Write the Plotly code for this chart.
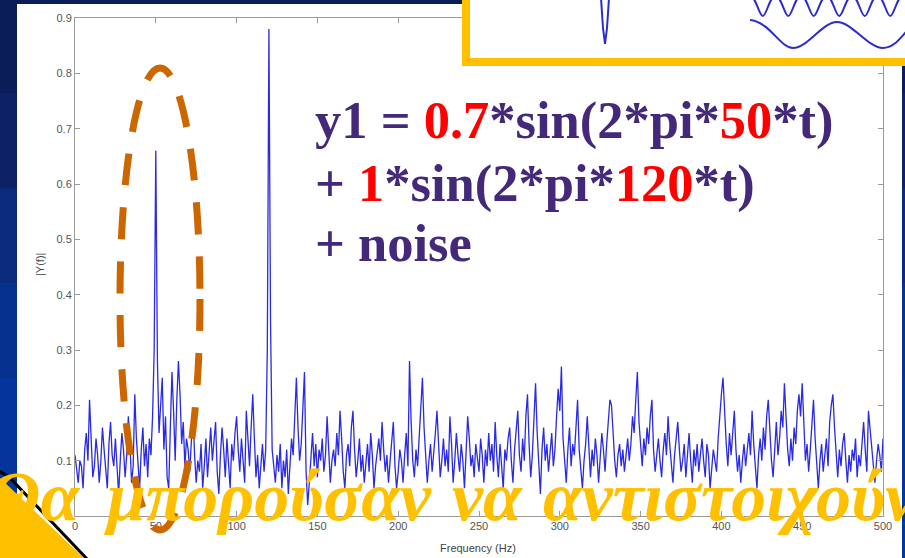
import plotly.graph_objects as go

# ---------------- data ----------------
freq_hz = list(range(0, 501))
amplitude = [
    0.11,0.08,0.06,0.10,0.09,0.05,0.12,0.15,0.10,0.21,
    0.13,0.07,0.09,0.14,0.11,0.06,0.10,0.16,0.12,0.08,
    0.05,0.13,0.17,0.11,0.09,0.14,0.08,0.04,0.10,0.15,
    0.12,0.07,0.11,0.18,0.13,0.06,0.09,0.22,0.14,0.10,
    0.05,0.12,0.16,0.09,0.13,0.07,0.14,0.11,0.18,0.30,
    0.66,0.28,0.15,0.20,0.25,0.12,0.18,0.07,0.05,0.16,
    0.26,0.19,0.10,0.21,0.28,0.22,0.13,0.17,0.09,0.14,
    0.12,0.08,0.15,0.19,0.11,0.06,0.10,0.08,0.13,0.05,
    0.09,0.14,0.07,0.11,0.16,0.10,0.13,0.17,0.08,0.04,
    0.11,0.16,0.12,0.07,0.14,0.09,0.05,0.13,0.10,0.15,
    0.18,0.12,0.08,0.14,0.10,0.06,0.19,0.13,0.09,0.16,
    0.22,0.14,0.07,0.11,0.05,0.09,0.13,0.08,0.12,0.30,
    0.88,0.35,0.12,0.09,0.06,0.11,0.08,0.13,0.05,0.10,
    0.07,0.12,0.04,0.09,0.14,0.11,0.19,0.25,0.16,0.10,
    0.13,0.20,0.26,0.08,0.02,0.06,0.11,0.15,0.09,0.13,
    0.07,0.12,0.10,0.14,0.08,0.11,0.18,0.13,0.06,0.10,
    0.12,0.09,0.15,0.11,0.19,0.14,0.08,0.05,0.11,0.13,
    0.09,0.16,0.19,0.12,0.07,0.10,0.14,0.08,0.11,0.06,
    0.10,0.13,0.08,0.15,0.11,0.05,0.09,0.12,0.14,0.10,
    0.17,0.12,0.08,0.11,0.06,0.10,0.13,0.17,0.09,0.05,
    0.08,0.12,0.10,0.06,0.11,0.15,0.09,0.28,0.17,0.10,
    0.07,0.12,0.09,0.14,0.19,0.25,0.16,0.11,0.06,0.10,
    0.13,0.08,0.11,0.15,0.19,0.12,0.07,0.10,0.14,0.09,
    0.12,0.08,0.18,0.13,0.06,0.10,0.15,0.11,0.08,0.13,
    0.10,0.05,0.12,0.18,0.14,0.09,0.11,0.07,0.13,0.10,
    0.08,0.14,0.11,0.06,0.12,0.09,0.15,0.10,0.13,0.08,
    0.17,0.11,0.07,0.13,0.09,0.05,0.12,0.10,0.14,0.16,
    0.10,0.06,0.12,0.15,0.19,0.11,0.08,0.14,0.10,0.18,
    0.22,0.13,0.07,0.11,0.17,0.24,0.15,0.09,0.04,0.12,
    0.16,0.10,0.13,0.08,0.11,0.15,0.09,0.12,0.18,0.23,
    0.19,0.27,0.14,0.10,0.06,0.12,0.16,0.09,0.13,0.11,
    0.17,0.21,0.12,0.08,0.05,0.10,0.13,0.18,0.11,0.07,
    0.12,0.09,0.14,0.11,0.06,0.10,0.15,0.12,0.08,0.13,
    0.17,0.21,0.20,0.14,0.10,0.07,0.11,0.13,0.09,0.12,
    0.08,0.11,0.14,0.10,0.13,0.18,0.15,0.21,0.26,0.17,
    0.12,0.09,0.14,0.11,0.16,0.13,0.18,0.21,0.12,0.08,
    0.11,0.14,0.10,0.07,0.12,0.15,0.11,0.18,0.13,0.09,
    0.06,0.11,0.14,0.17,0.12,0.08,0.10,0.13,0.07,0.11,
    0.15,0.10,0.06,0.12,0.09,0.13,0.08,0.11,0.14,0.10,
    0.07,0.13,0.11,0.05,0.09,0.12,0.10,0.08,0.14,0.19,
    0.22,0.25,0.18,0.13,0.09,0.15,0.11,0.16,0.19,0.12,
    0.08,0.11,0.06,0.10,0.13,0.09,0.12,0.15,0.11,0.19,
    0.13,0.08,0.05,0.11,0.14,0.10,0.16,0.12,0.18,0.21,
    0.15,0.10,0.07,0.13,0.17,0.11,0.14,0.19,0.16,0.24,
    0.17,0.12,0.09,0.14,0.10,0.16,0.13,0.19,0.22,0.18,
    0.24,0.15,0.10,0.13,0.08,0.12,0.17,0.21,0.14,0.09,
    0.05,0.10,0.13,0.08,0.11,0.14,0.09,0.17,0.20,0.22,
    0.16,0.11,0.07,0.12,0.09,0.13,0.15,0.10,0.06,0.11,
    0.08,0.12,0.10,0.14,0.07,0.11,0.09,0.13,0.17,0.12,
    0.08,0.19,0.16,0.12,0.09,0.06,0.10,0.13,0.11,0.08,
    0.14,
]
x_ticks = [0, 50, 100, 150, 200, 250, 300, 350, 400, 450, 500]
y_ticks = [0, 0.1, 0.2, 0.3, 0.4, 0.5, 0.6, 0.7, 0.8, 0.9]
x_title = "Frequency (Hz)"
y_title = "|Y(f)|"
eq_lines = [
    'y1 = <span style="color:#FF0000">0.7</span>*sin(2*pi*<span style="color:#FF0000">50</span>*t)',
    '+ <span style="color:#FF0000">1</span>*sin(2*pi*<span style="color:#FF0000">120</span>*t)',
    '+ noise',
]
greek_words = ["Θα", "μπορούσαν", "να", "αντιστοιχούν"]

# ---------------- layout geometry ----------------
W, H = 905, 558
L, R, T, B = 75, 22, 18, 42
PW, PH = W - L - R, H - T - B


def px(x):
    return (x - L) / PW


def py(y):
    return 1 - (y - T) / PH


def rect(x0, y0, x1, y1, **kw):
    return dict(type="rect", xref="paper", yref="paper",
                x0=px(x0), x1=px(x1), y0=py(y1), y1=py(y0), **kw)


def path(points, **kw):
    s = "M {:.5f},{:.5f}".format(px(points[0][0]), py(points[0][1]))
    for p in points[1:]:
        s += " L {:.5f},{:.5f}".format(px(p[0]), py(p[1]))
    return dict(type="path", xref="paper", yref="paper", path=s, **kw)


def curve(start, segs, **kw):
    s = "M {:.5f},{:.5f}".format(px(start[0]), py(start[1]))
    for c1, c2, e in segs:
        s += " C {:.5f},{:.5f} {:.5f},{:.5f} {:.5f},{:.5f}".format(
            px(c1[0]), py(c1[1]), px(c2[0]), py(c2[1]), px(e[0]), py(e[1]))
    return dict(type="path", xref="paper", yref="paper", path=s, **kw)


fig = go.Figure()
fig.add_trace(go.Scatter(x=freq_hz, y=amplitude, mode="lines",
                         line=dict(color="#2a2ae6", width=1.3),
                         hoverinfo="skip", showlegend=False))

shapes = []
# slide background bands (blue gradient)
bands = ["#0b1d58", "#0c2264", "#0a2a7c", "#06318f", "#03359c", "#02369f"]
for i, c in enumerate(bands):
    shapes.append(rect(-2, i * 95 - 2, W + 2, (i + 1) * 95 + 2, fillcolor=c,
                       line=dict(width=0), layer="below"))
# white picture of the MATLAB plot
shapes.append(rect(17, 4, 902, H + 2, fillcolor="white", line=dict(width=0), layer="below"))

# yellow inset box at top right
shapes.append(rect(466, -12, 915, 62, fillcolor="white",
                   line=dict(color="#FFC000", width=8), layer="above"))
# contents of the inset (decorative)
shapes.append(path([(601, -2), (603, 28), (605, 44), (607, 28), (609, -2)],
                   line=dict(color="#2b2bd0", width=2), layer="above"))
segs = []
for k in range(6):
    x0 = 750 + k * 25.5
    segs.append(((x0 + 6, -4), (x0 + 9, 16), (x0 + 12.75, 16)))
    segs.append(((x0 + 16.5, 16), (x0 + 19.5, -4), (x0 + 25.5, -4)))
shapes.append(curve((750, -4), segs, line=dict(color="#2b2bd0", width=2), layer="above"))
shapes.append(curve((750, 20), [((770, 22), (780, 48), (793, 48)),
                                ((808, 48), (822, 22), (837, 22)),
                                ((852, 22), (868, 48), (883, 48)),
                                ((895, 48), (902, 35), (910, 28))],
                    line=dict(color="#2b2bd0", width=2), layer="above"))

# orange dashed ellipse
shapes.append(dict(type="circle", xref="paper", yref="paper",
                   x0=px(120), x1=px(200), y0=py(530), y1=py(68),
                   line=dict(color="#CC6600", width=7, dash="32px,22px"),
                   layer="above"))

# yellow corner triangle bottom-left
shapes.append(path([(0, 478), (86, 560), (0, 560), (0, 478)],
                   fillcolor="#FFC000", line=dict(width=0), layer="above"))
shapes.append(path([(-2, 470), (10, 478), (88, 560)],
                   line=dict(color="black", width=3), layer="above"))

annotations = []
# equation text
for txt, yc in zip(eq_lines, [120, 183, 243]):
    annotations.append(dict(xref="paper", yref="paper", x=px(313), y=py(yc),
                            xanchor="left", yanchor="middle", showarrow=False,
                            text="<b>" + txt + "</b>",
                            font=dict(family="Liberation Serif", size=52.5, color="#44287a")))
# axis titles
annotations.append(dict(xref="paper", yref="paper", x=px(40), y=py(265), text=y_title,
                        textangle=-90, showarrow=False, xanchor="center", yanchor="middle",
                        font=dict(family="Liberation Sans", size=11, color="#444")))
annotations.append(dict(xref="paper", yref="paper", x=px(478), y=py(548), text=x_title,
                        showarrow=False, xanchor="center", yanchor="middle",
                        font=dict(family="Liberation Sans", size=11, color="#444")))
# Greek caption, one word at a time to follow the spacing of the picture
for word, x_mid in zip(greek_words, [33, 268, 487, 730]):
    annotations.append(dict(xref="paper", yref="paper", x=px(x_mid), y=py(496), text=word,
                            showarrow=False, xanchor="center", yanchor="middle",
                            font=dict(family="Liberation Serif", size=70, color="#FFC000",
                                      style="italic", weight="bold")))

axis_common = dict(showline=True, linecolor="#9a9a9a", linewidth=1, mirror="ticks",
                   ticks="inside", ticklen=5, tickcolor="#9a9a9a", showgrid=False,
                   zeroline=False, tickfont=dict(family="Liberation Sans", size=11, color="#555"))

fig.update_layout(
    width=W, height=H,
    margin=dict(l=L, r=R, t=T, b=B),
    paper_bgcolor="#03359c",
    plot_bgcolor="white",
    shapes=shapes,
    annotations=annotations,
    xaxis=dict(range=[0, 500], tickvals=x_ticks, **axis_common),
    yaxis=dict(range=[0, 0.9], tickvals=y_ticks, **axis_common),
    showlegend=False,
)

fig.write_html("out.html", config={"displayModeBar": False},
               post_script="document.body.style.margin='0px';document.body.style.overflow='hidden';")
